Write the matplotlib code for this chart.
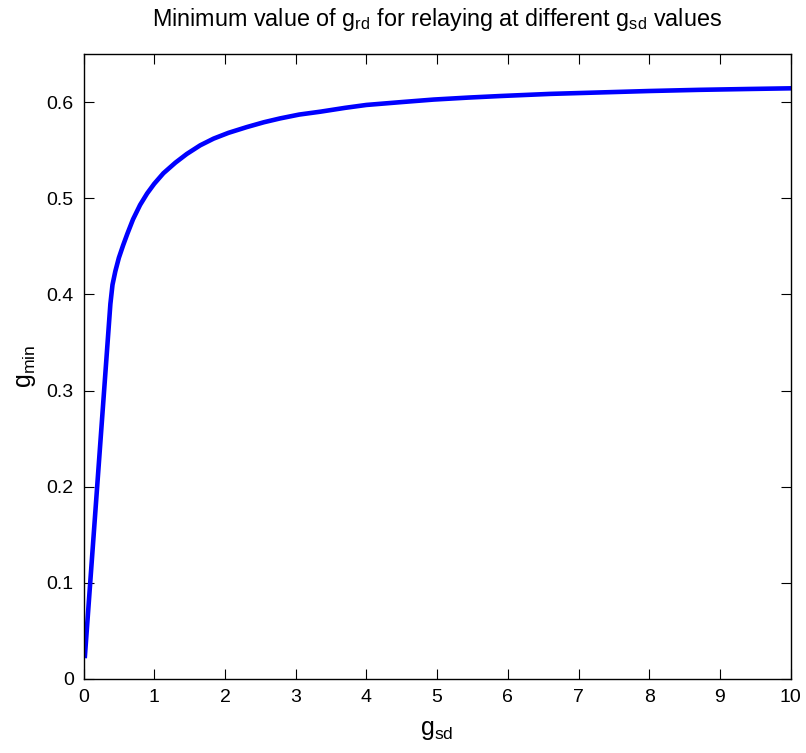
import matplotlib
matplotlib.use('Agg')
import matplotlib.pyplot as plt

# values
g_sd = [0.02, 0.38, 0.41, 0.45, 0.50, 0.56, 0.62, 0.70, 0.80, 0.90, 1.00,
        1.13, 1.30, 1.46, 1.65, 1.84, 2.05, 2.31, 2.55, 2.78, 3.05, 3.35,
        3.70, 4.00, 4.50, 4.95, 5.45, 5.90, 6.60, 7.30, 8.00, 8.70, 9.40, 10.0]
g_min = [0.024, 0.390, 0.410, 0.424, 0.438, 0.451, 0.463, 0.478, 0.493, 0.505, 0.515,
         0.526, 0.537, 0.546, 0.555, 0.562, 0.568, 0.574, 0.579, 0.583, 0.587, 0.590,
         0.594, 0.597, 0.600, 0.6026, 0.6047, 0.6063, 0.6085, 0.6100, 0.6115, 0.6127, 0.6136, 0.6143]

x_ticks = list(range(0, 11))
y_ticks = [0, 0.1, 0.2, 0.3, 0.4, 0.5, 0.6]
y_labels = ['0', '0.1', '0.2', '0.3', '0.4', '0.5', '0.6']

plt.rcParams['font.family'] = ['Liberation Sans', 'DejaVu Sans']
plt.rcParams['mathtext.fontset'] = 'custom'
plt.rcParams['mathtext.rm'] = 'Liberation Sans'
plt.rcParams['mathtext.default'] = 'regular'

fig = plt.figure(figsize=(8.06, 7.53), dpi=100)
ax = fig.add_axes([0.1036, 0.0983, 0.8774, 0.83])

ax.plot(g_sd, g_min, color='#0000ff', linewidth=3.3)

ax.set_xlim(0, 10)
ax.set_ylim(0, 0.65)
ax.set_xticks(x_ticks)
ax.set_yticks(y_ticks)
ax.set_yticklabels(y_labels)
ax.tick_params(direction='in', top=True, right=True, length=7, labelsize=14, pad=7)
for s in ax.spines.values():
    s.set_linewidth(1.0)

ax.set_title('Minimum value of g$_{rd}$ for relaying at different g$_{sd}$ values',
             fontsize=16.8, pad=20)
ax.set_xlabel('g$_{sd}$', fontsize=18, labelpad=9)
ax.set_ylabel('g$_{min}$', fontsize=18, labelpad=6)

fig.savefig('out.png', dpi=100)
